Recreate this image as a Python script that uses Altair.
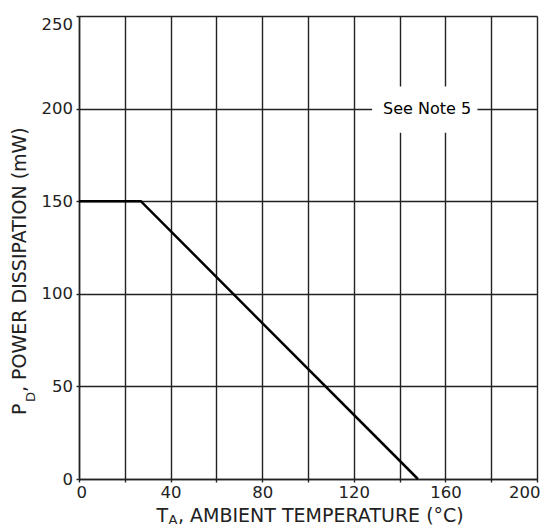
import altair as alt
import pandas as pd

# Derating curve: ambient temperature (°C) vs power dissipation (mW)
temp = [0, 27, 148]
power = [150, 150, 0]

x_grid = [0, 20, 40, 60, 80, 100, 120, 140, 160, 180, 200]
y_ticks = [0, 50, 100, 150, 200, 250]

note_text = ["See Note 5"]
note_x = [152]
note_y = [200]
note_box_x = [128]
note_box_x2 = [174]
note_box_y = [187]
note_box_y2 = [212]

FONT = "DejaVu Sans"
INK = "#222222"

line_df = pd.DataFrame({"x": temp, "y": power})
note_df = pd.DataFrame({"x": note_x, "y": note_y, "t": note_text})
box_df = pd.DataFrame({"x": note_box_x, "x2": note_box_x2, "y": note_box_y, "y2": note_box_y2})

xscale = alt.Scale(domain=[0, 200], nice=False, zero=False)
yscale = alt.Scale(domain=[0, 250], nice=False, zero=False)

xaxis = alt.Axis(
    values=x_grid, title=None, grid=True, gridColor=INK, gridWidth=1.4,
    domainColor=INK, domainWidth=1.5, tickColor=INK, tickSize=3, tickWidth=1.4,
    labelFont=FONT, labelFontSize=16.5, labelColor=INK, labelPadding=2,
    labelOverlap=False, labelFlush=True, labelFlushOffset=3,
    labelExpr="datum.value % 40 === 0 ? datum.label : ''",
)
yaxis = alt.Axis(
    values=y_ticks, title=None, grid=True, gridColor=INK, gridWidth=1.4,
    domainColor=INK, domainWidth=1.5, tickColor=INK, tickSize=3, tickWidth=1.4,
    labelFont=FONT, labelFontSize=16.5, labelColor=INK, labelPadding=3.5,
    labelOverlap=False,
    labelBaseline={"condition": {"test": "datum.value === 250", "value": "top"}, "value": "middle"},
)

X = alt.X("x:Q", scale=xscale, axis=xaxis)
Y = alt.Y("y:Q", scale=yscale, axis=yaxis)

box = alt.Chart(box_df).mark_rect(fill="white", stroke=None).encode(
    x=X, x2="x2:Q", y=Y, y2="y2:Q"
)
note = alt.Chart(note_df).mark_text(
    font=FONT, fontSize=16, color="black", align="center", baseline="middle"
).encode(x=X, y=Y, text="t:N")

line = alt.Chart(line_df).mark_line(color="black", strokeWidth=2.5).encode(x=X, y=Y)


def label(txt, px, py, size, angle=0):
    return alt.Chart(pd.DataFrame({"t": [txt]})).mark_text(
        font=FONT, fontSize=size, color=INK, align="left",
        baseline="alphabetic", angle=angle
    ).encode(x=alt.value(px), y=alt.value(py), text="t:N")


titles = [
    label("T", 77.4, 506, 19),
    label("A", 89.6, 507.5, 13),
    label(", AMBIENT TEMPERATURE (°C)", 99.0, 506, 19),
    label("P", -53.0, 399, 19, 270),
    label("D", -44.0, 386, 13, 270),
    label(", POWER DISSIPATION (mW)", -53.0, 376, 19, 270),
]

chart = alt.layer(box, note, line, *titles).properties(
    width=458, height=463,
    padding={"left": 71, "top": 8, "right": 4, "bottom": 46},
    autosize=alt.AutoSizeParams(type="none"),
).configure_view(stroke=None)

chart.save("out.html", embed_options={"renderer": "svg", "actions": False})
